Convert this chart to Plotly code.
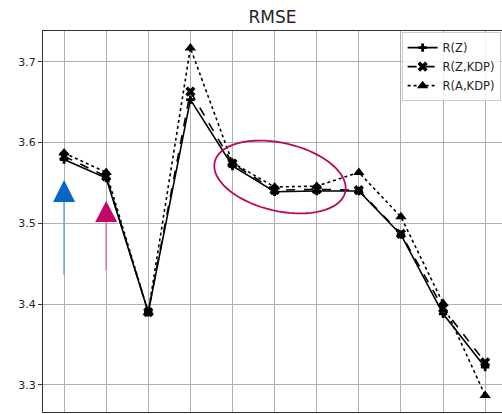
import math
import plotly.graph_objects as go

x_idx = list(range(11))
rz = [3.579, 3.556, 3.390, 3.653, 3.571, 3.539, 3.540, 3.540, 3.486, 3.388, 3.322]
rzkdp = [3.583, 3.558, 3.390, 3.663, 3.574, 3.541, 3.542, 3.541, 3.487, 3.395, 3.328]
rakdp = [3.587, 3.563, 3.390, 3.717, 3.575, 3.545, 3.546, 3.563, 3.508, 3.401, 3.287]
series_names = ["R(Z)", "R(Z,KDP)", "R(A,KDP)"]
y_ticks = [3.3, 3.4, 3.5, 3.6, 3.7]

W, H = 502, 414
ML, MR, MT, MB = 43, 0, 31, 2
xr = [-0.5, 10.4]
yr = [3.2665, 3.738]
pw = W - ML - MR
ph = H - MT - MB

def px2x(px):
    return xr[0] + (px - ML) / pw * (xr[1] - xr[0])

def py2y(py):
    return yr[1] - (py - MT) / ph * (yr[1] - yr[0])

fig = go.Figure()
fig.add_trace(go.Scatter(x=x_idx, y=rz, name=series_names[0], mode="lines+markers",
                         line=dict(color="black", width=1.6, dash="solid"),
                         marker=dict(symbol="cross", size=7, color="black")))
fig.add_trace(go.Scatter(x=x_idx, y=rzkdp, name=series_names[1], mode="lines+markers",
                         line=dict(color="black", width=1.6, dash="dash"),
                         marker=dict(symbol="x", size=9, color="black")))
fig.add_trace(go.Scatter(x=x_idx, y=rakdp, name=series_names[2], mode="lines+markers",
                         line=dict(color="black", width=1.6, dash="dot"),
                         marker=dict(symbol="triangle-up", size=10, color="black")))

shapes = []
# arrows (annotation graphics)
def arrow(xc, y_tail_px, y_base_px, y_tip_px, half_w_px, line_col, head_col):
    xpx = ML + (xc - xr[0]) / (xr[1] - xr[0]) * pw
    shapes.append(dict(type="line", xref="x", yref="y", x0=xc, x1=xc,
                       y0=py2y(y_tail_px), y1=py2y(y_base_px),
                       line=dict(color=line_col, width=1.5), layer="above"))
    path = "M {},{} L {},{} L {},{} Z".format(
        px2x(xpx - half_w_px), py2y(y_base_px),
        px2x(xpx + half_w_px), py2y(y_base_px),
        px2x(xpx), py2y(y_tip_px))
    shapes.append(dict(type="path", xref="x", yref="y", path=path,
                       fillcolor=head_col, line=dict(color=head_col, width=0), layer="above"))

arrow(0, 275, 202, 180, 11, "#6aa5dc", "#0866c6")
arrow(1, 270, 222, 201, 11, "#e070a8", "#c4066c")

# ellipse
cx, cy, a, b, th = 280, 177, 67, 34, math.radians(13)
pts = []
for i in range(73):
    t = 2 * math.pi * i / 72
    ex = a * math.cos(t)
    ey = b * math.sin(t)
    px = cx + ex * math.cos(th) - ey * math.sin(th)
    py = cy + ex * math.sin(th) + ey * math.cos(th)
    pts.append((px2x(px), py2y(py)))
path = "M " + " L ".join("{},{}".format(p[0], p[1]) for p in pts) + " Z"
shapes.append(dict(type="path", xref="x", yref="y", path=path,
                   line=dict(color="#b80c5c", width=1.8), layer="above"))

fig.update_layout(
    width=W, height=H,
    margin=dict(l=ML, r=MR, t=MT, b=MB),
    paper_bgcolor="white", plot_bgcolor="white",
    font=dict(family="DejaVu Sans", size=11, color="#262626"),
    title=dict(text="RMSE", x=(ML + W) / 2 / W, xanchor="center", y=1 - 17 / H, yanchor="middle",
               font=dict(size=17, color="#262626")),
    showlegend=True,
    legend=dict(x=0.997, xanchor="right", y=0.997, yanchor="top",
                bgcolor="rgba(255,255,255,0.85)", bordercolor="#cccccc", borderwidth=1,
                font=dict(size=11.5, color="#262626"), tracegroupgap=0, itemwidth=30),
    shapes=shapes,
)
fig.update_xaxes(range=xr, tickvals=x_idx, showticklabels=False, showgrid=True,
                 gridcolor="#b0b0b0", gridwidth=1, zeroline=False, ticks="",
                 showline=True, linecolor="#333333", linewidth=1, mirror=True)
fig.update_yaxes(range=yr, tickvals=y_ticks, ticktext=[f"{v:.1f}" for v in y_ticks],
                 showgrid=True, gridcolor="#b0b0b0", gridwidth=1, zeroline=False,
                 ticks="outside", ticklen=4, tickcolor="#333333",
                 showline=True, linecolor="#333333", linewidth=1, mirror=False)

fig.write_html("out.html")
